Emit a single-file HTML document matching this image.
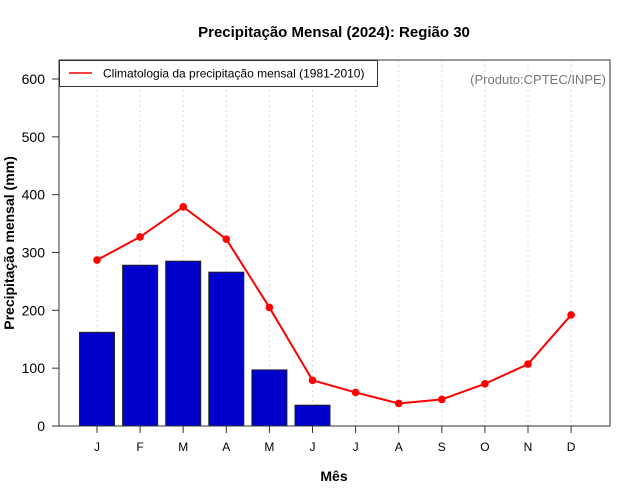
<!DOCTYPE html>
<html><head><meta charset="utf-8"><style>
body{margin:0;background:#fff}
svg{display:block;font-family:"Liberation Sans",sans-serif}
</style></head><body>
<svg id="chart" width="640" height="500">
<text x="334" y="37" text-anchor="middle" font-size="15" font-weight="bold">Precipitação Mensal (2024): Região 30</text>
<text x="334" y="481" text-anchor="middle" font-size="14" font-weight="bold">Mês</text>
<text transform="translate(14,243) rotate(-90)" text-anchor="middle" font-size="14" font-weight="bold">Precipitação mensal (mm)</text>
<g id="grid"></g><g id="bars"></g><g id="line"></g><g id="axes"></g>
<rect x="59" y="60" width="551" height="366" fill="none" stroke="#333" stroke-width="1"/>
<g>
<rect x="59.5" y="60.5" width="318" height="26" fill="#fff" stroke="#333"/>
<line x1="69" y1="73" x2="92" y2="73" stroke="red" stroke-width="1.5"/>
<text x="103" y="77.5" font-size="12">Climatologia da precipitação mensal (1981-2010)</text>
</g>
<text x="606" y="84" text-anchor="end" font-size="13" fill="#777">(Produto:CPTEC/INPE)</text>
</svg>
<script>
const months=["J","F","M","A","M","J","J","A","S","O","N","D"];
const obs=[162,278,285,266,97,36];
const clim=[287,327,379,323,205,79,58,39,46,73,107,192];
const yTicks=[0,100,200,300,400,500,600];
const NS="http://www.w3.org/2000/svg";
const X=i=>97+i*43.1, Y=v=>426-v*0.5783;
function mk(t,a,p){const e=document.createElementNS(NS,t);for(const k in a)e.setAttribute(k,a[k]);document.getElementById(p).appendChild(e);return e;}
months.forEach((m,i)=>{
 const g=mk("line",{x1:X(i),x2:X(i),y1:60,y2:426,stroke:"#ddd","stroke-dasharray":"2,3"},"grid");
 
 
 const t=mk("line",{x1:X(i),x2:X(i),y1:426,y2:433,stroke:"#333"},"axes");
 
 
 const l=mk("text",{x:X(i),y:451,"text-anchor":"middle","font-size":12},"axes");l.textContent=m;
 
 
});
yTicks.forEach(v=>{
 const t=mk("line",{x1:52,x2:59,y1:Y(v),y2:Y(v),stroke:"#333"},"axes");
 
 
 const l=mk("text",{x:45,y:Y(v)+5,"text-anchor":"end","font-size":14},"axes");l.textContent=v;
 
 
});
obs.forEach((v,i)=>{
 const b=mk("rect",{x:X(i)-17.5,y:Y(v),width:35,height:426-Y(v),fill:"#0000cd",stroke:"#222","stroke-width":1},"bars");
 
 
});
const pl=mk("polyline",{points:clim.map((v,i)=>X(i)+","+Y(v)).join(" "),fill:"none",stroke:"red","stroke-width":2},"line");


clim.forEach((v,i)=>{
 const c=mk("circle",{cx:X(i),cy:Y(v),r:3.8,fill:"red"},"line");
 
 
});
</script>
</body></html>
